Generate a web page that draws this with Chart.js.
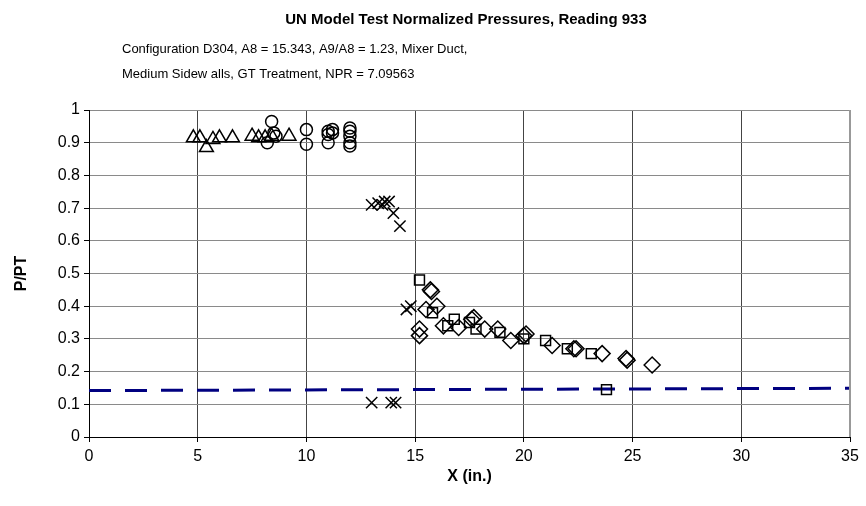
<!DOCTYPE html>
<html>
<head>
<meta charset="utf-8">
<script src="https://cdn.jsdelivr.net/npm/chart.js@4/dist/chart.umd.min.js"></script>
<style>
  html, body { margin: 0; padding: 0; background: #fff; }
  #wrap { width: 866px; height: 506px; position: relative; }
</style>
</head>
<body>
<div id="wrap"><canvas id="chart" width="866" height="506"></canvas></div>
<script>
const titleText = "UN Model Test Normalized Pressures, Reading 933";
const subtitleLines = [
  "Configuration D304, A8 = 15.343, A9/A8 = 1.23, Mixer Duct,",
  "Medium Sidew alls, GT Treatment, NPR = 7.09563"
];
const xTitle = "X (in.)";
const yTitle = "P/PT";
const xTickLabels = ["0", "5", "10", "15", "20", "25", "30", "35"];
const yTickLabels = ["0", "0.1", "0.2", "0.3", "0.4", "0.5", "0.6", "0.7", "0.8", "0.9", "1"];

// triangles
const triX = [4.8, 5.1, 5.4, 5.7, 6.0, 6.6, 7.5, 7.8, 8.1, 8.4, 9.2];
const triY = [0.915, 0.915, 0.885, 0.91, 0.915, 0.915, 0.92, 0.915, 0.915, 0.92, 0.92];
// circles
const cirX = [8.2, 8.4, 8.5, 8.6, 10.0, 10.0, 11.0, 11.0, 11.0, 11.2, 11.2, 12.0, 12.0, 12.0, 12.0, 12.0];
const cirY = [0.9, 0.965, 0.93, 0.92, 0.94, 0.895, 0.9, 0.925, 0.935, 0.94, 0.93, 0.945, 0.935, 0.92, 0.9, 0.89];
// crosses
const crsX = [13.0, 13.3, 13.5, 13.6, 13.8, 14.0, 14.3, 14.6, 14.8, 13.0, 13.9, 14.1];
const crsY = [0.71, 0.715, 0.71, 0.72, 0.72, 0.685, 0.645, 0.39, 0.40, 0.105, 0.105, 0.105];
// squares
const sqX = [15.2, 15.8, 16.5, 16.8, 17.5, 17.8, 18.9, 20.0, 21.0, 22.0, 23.1, 23.8];
const sqY = [0.48, 0.38, 0.34, 0.36, 0.35, 0.33, 0.32, 0.30, 0.295, 0.27, 0.255, 0.145];
// diamonds
const dmX = [15.2, 15.2, 15.5, 15.7, 15.75, 16.0, 16.3, 17.0, 17.6, 17.7, 18.2, 18.8, 19.4, 20.0, 20.1, 21.3, 22.3, 22.4, 23.6, 24.7, 24.75, 25.9];
const dmY = [0.33, 0.31, 0.39, 0.45, 0.445, 0.40, 0.34, 0.335, 0.36, 0.365, 0.33, 0.33, 0.295, 0.31, 0.315, 0.28, 0.27, 0.27, 0.255, 0.24, 0.235, 0.22];
// reference line
const refX = [0, 35];
const refY = [0.142, 0.149];

function pts(xs, ys) {
  return xs.map((x, i) => ({ x: x, y: ys[i] }));
}

function markerSet(label, xs, ys, style, radius) {
  return {
    label: label,
    data: pts(xs, ys),
    pointStyle: style,
    pointRadius: radius,
    pointBorderColor: "#000",
    pointBackgroundColor: "rgba(0,0,0,0)",
    pointBorderWidth: 1.5,
    showLine: false
  };
}

const FONT = "'Liberation Sans', Arial, sans-serif";

const textPlugin = {
  id: "texts",
  afterDraw(chart) {
    const ctx = chart.ctx;
    const area = chart.chartArea;
    ctx.save();
    ctx.fillStyle = "#000";
    ctx.textBaseline = "middle";
    ctx.font = "bold 15px " + FONT;
    ctx.textAlign = "center";
    ctx.fillText(titleText, 466, 20);
    ctx.font = "13px " + FONT;
    ctx.textAlign = "left";
    ctx.fillText(subtitleLines[0], 122, 49);
    ctx.fillText(subtitleLines[1], 122, 74);
    // plot border on the right
    ctx.strokeStyle = "#999";
    ctx.lineWidth = 2;
    ctx.beginPath();
    ctx.moveTo(area.right, area.top);
    ctx.lineTo(area.right, area.bottom);
    ctx.stroke();
    ctx.restore();
  }
};

new Chart(document.getElementById("chart"), {
  type: "scatter",
  data: {
    datasets: [
      {
        label: "ref",
        type: "line",
        data: pts(refX, refY),
        borderColor: "#000080",
        borderWidth: 3,
        borderDash: [22, 14],
        pointRadius: 0,
        fill: false,
        order: 10
      },
      markerSet("tri", triX, triY, "triangle", 8),
      markerSet("cir", cirX, cirY, "circle", 6),
      markerSet("crs", crsX, crsY, "crossRot", 8),
      markerSet("sq", sqX, sqY, "rect", 7),
      markerSet("dm", dmX, dmY, "rectRot", 8)
    ]
  },
  options: {
    responsive: false,
    animation: false,
    layout: { padding: { top: 110, right: 16, left: 8, bottom: 16 } },
    plugins: {
      legend: { display: false },
      tooltip: { enabled: false }
    },
    scales: {
      x: {
        type: "linear",
        min: 0,
        max: 35,
        ticks: {
          stepSize: 5,
          color: "#000",
          font: { family: FONT, size: 16 },
          padding: 5,
          callback: (v) => xTickLabels[Math.round(v / 5)]
        },
        grid: { color: "#444", tickColor: "#000", tickLength: 5, lineWidth: 1 },
        border: { color: "#000", width: 1 },
        title: {
          display: true,
          text: xTitle,
          color: "#000",
          font: { family: FONT, size: 16, weight: "bold" },
          padding: { top: 0 }
        },
        afterFit(scale) { scale.height = 53; }
      },
      y: {
        type: "linear",
        min: 0,
        max: 1,
        ticks: {
          stepSize: 0.1,
          color: "#000",
          font: { family: FONT, size: 16 },
          padding: 4,
          callback: (v) => yTickLabels[Math.round(v * 10)]
        },
        grid: { color: "#8a8a8a", tickColor: "#000", tickLength: 5, lineWidth: 1 },
        border: { color: "#000", width: 1 },
        title: {
          display: true,
          text: yTitle,
          color: "#000",
          font: { family: FONT, size: 16, weight: "bold" },
          padding: { bottom: 4 }
        },
        afterFit(scale) { scale.width = 81; }
      }
    }
  },
  plugins: [textPlugin]
});
</script>
</body>
</html>
